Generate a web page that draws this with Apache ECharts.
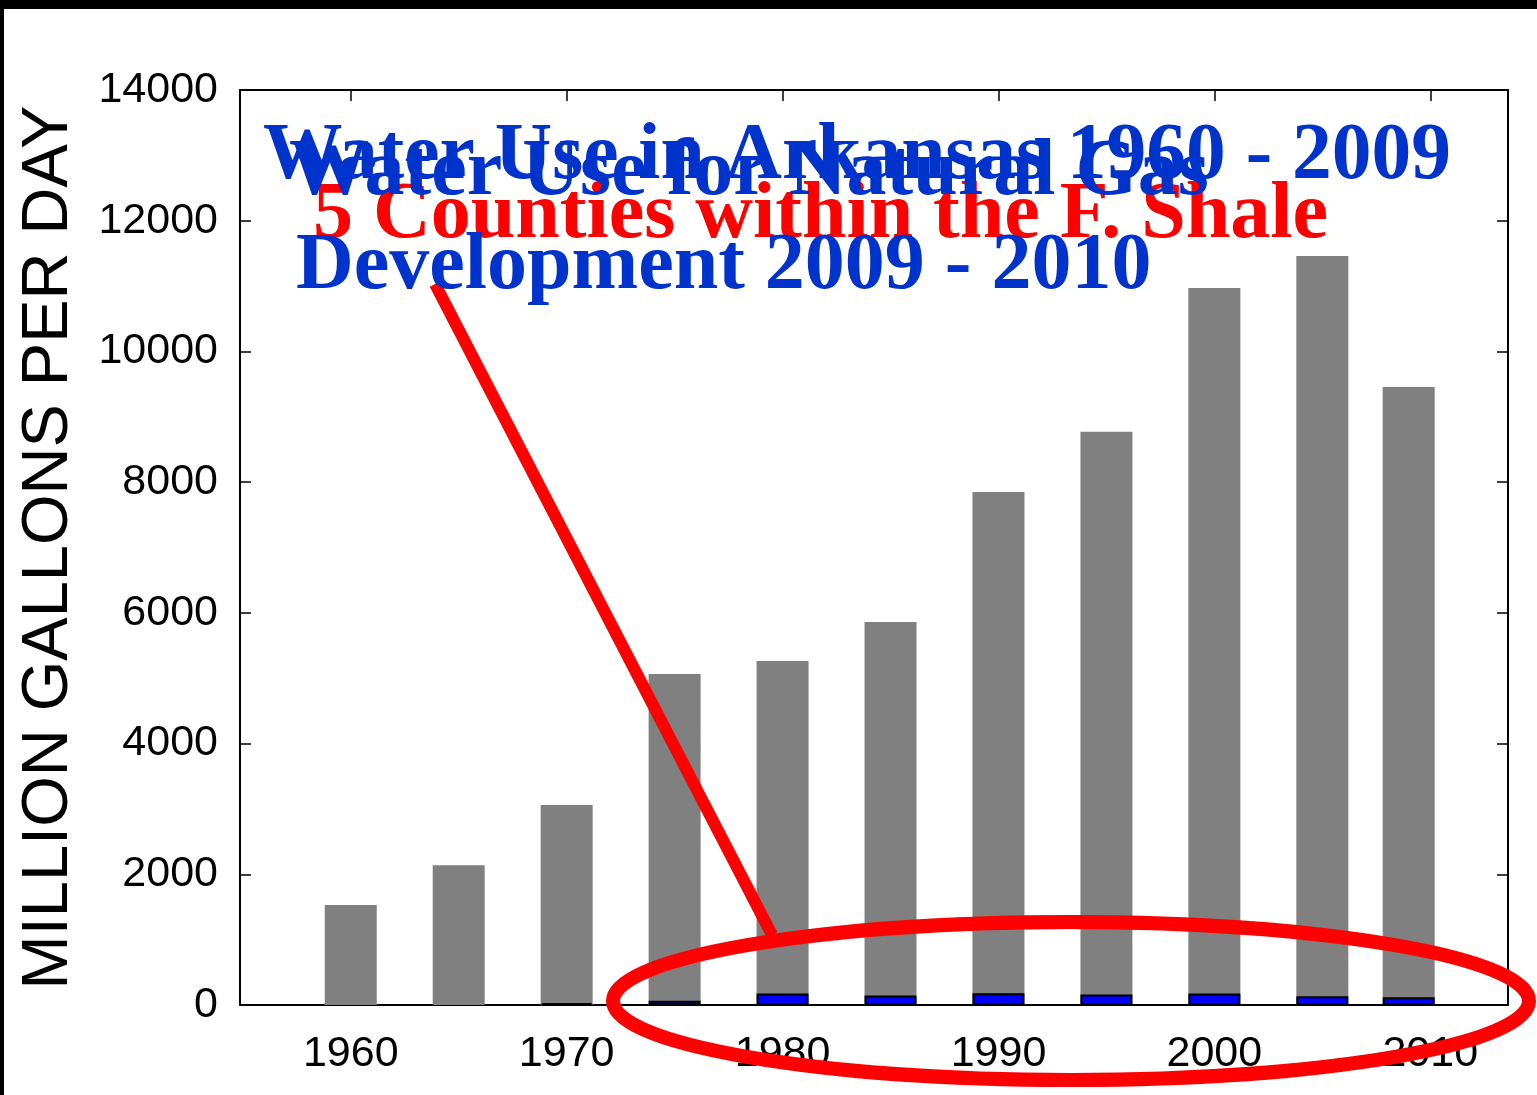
<!DOCTYPE html>
<html>
<head>
<meta charset="utf-8">
<style>
html,body{margin:0;padding:0;background:#fff;}
#chart{width:1537px;height:1095px;}
</style>
<script src="https://cdn.jsdelivr.net/npm/echarts@6/dist/echarts.min.js"></script>
</head>
<body>
<div id="chart"></div>
<script>
var years = [1960, 1965, 1970, 1975, 1980, 1985, 1990, 1995, 2000, 2005, 2009];
var arkansasUse = [1530, 2140, 3060, 5065, 5265, 5860, 7850, 8770, 10970, 11460, 9455];
var gasUse = [null, null, 30, 65, 175, 145, 180, 160, 175, 135, 120];
var xTicks = [1960, 1970, 1980, 1990, 2000, 2010];
var yTicks = [0, 2000, 4000, 6000, 8000, 10000, 12000, 14000];
var titleLines = [
  'Water Use in Arkansas 1960 - 2009',
  'Water Use for Natural Gas',
  '5 Counties within the F. Shale',
  'Development 2009 - 2010'
];
var yTitle = 'MILLION GALLONS PER DAY';

var chart = echarts.init(document.getElementById('chart'), null, {renderer: 'canvas'});

function pairs(xs, vs) { return xs.map(function (x, i) { return [x, vs[i]]; }); }
function plain(v) { return String(v); }

var sansFont = 'Liberation Sans';
var tickStyle = {show: true, inside: true, length: 11, lineStyle: {color: '#000', width: 1.5}};
var serif = 'bold 80px "Liberation Serif", "Times New Roman", serif';
var serif1 = 'bold 79.5px "Liberation Serif", "Times New Roman", serif';
var blue = '#0033cc';

var option = {
  backgroundColor: '#ffffff',
  animation: false,
  grid: {left: 240, right: 29, top: 90, bottom: 90, show: false},
  xAxis: [{
    type: 'value', min: 1954.87, max: 2013.6, position: 'bottom',
    axisLine: {show: true, onZero: false, lineStyle: {color: '#000', width: 2}},
    axisTick: Object.assign({customValues: xTicks}, tickStyle),
    axisLabel: {customValues: xTicks, formatter: plain, fontSize: 43, fontFamily: sansFont, color: '#000', margin: 28},
    splitLine: {show: false}
  }, {
    type: 'value', min: 1954.87, max: 2013.6, position: 'top',
    axisLine: {show: true, onZero: false, lineStyle: {color: '#000', width: 2}},
    axisTick: Object.assign({customValues: xTicks}, tickStyle),
    axisLabel: {show: false},
    splitLine: {show: false}
  }],
  yAxis: [{
    type: 'value', min: 0, max: 14000, interval: 2000, position: 'left',
    name: yTitle, nameLocation: 'middle', nameRotate: 90, nameGap: 158,
    nameTextStyle: {fontSize: 65, fontFamily: sansFont, color: '#000'},
    axisLine: {show: true, onZero: false, lineStyle: {color: '#000', width: 2}},
    axisTick: tickStyle,
    axisLabel: {formatter: plain, fontSize: 43, fontFamily: sansFont, color: '#000', margin: 22},
    splitLine: {show: false}
  }, {
    type: 'value', min: 0, max: 14000, interval: 2000, position: 'right',
    axisLine: {show: true, onZero: false, lineStyle: {color: '#000', width: 2}},
    axisTick: tickStyle,
    axisLabel: {show: false},
    splitLine: {show: false}
  }],
  series: [{
    type: 'bar', name: 'Arkansas', xAxisIndex: 0, yAxisIndex: 0,
    data: pairs(years, arkansasUse), barWidth: 52, barGap: '-100%',
    itemStyle: {color: '#808080'}, z: 2
  }, {
    type: 'bar', name: 'Natural Gas', xAxisIndex: 0, yAxisIndex: 0,
    data: pairs(years, gasUse), barWidth: 52, barGap: '-100%',
    itemStyle: {color: '#0000ff', borderColor: '#000', borderWidth: 2}, z: 3
  }],
  graphic: [
    {type: 'rect', z: 200, shape: {x: 0, y: 0, width: 1537, height: 9}, style: {fill: '#000'}},
    {type: 'rect', z: 200, shape: {x: 0, y: 0, width: 4, height: 1095}, style: {fill: '#000'}},
    {type: 'line', z: 100, shape: {x1: 435, y1: 284, x2: 772, y2: 935}, style: {stroke: '#ff0000', lineWidth: 12}},
    {type: 'ellipse', z: 100, shape: {cx: 1071, cy: 1001, rx: 458, ry: 79}, style: {fill: 'none', stroke: '#ff0000', lineWidth: 14}},
    {type: 'text', z: 110, x: 263, y: 157, style: {text: titleLines[0], font: serif1, fill: blue, verticalAlign: 'middle', align: 'left'}},
    {type: 'text', z: 110, x: 313, y: 216, style: {text: titleLines[2], font: serif, fill: '#ff0000', verticalAlign: 'middle', align: 'left'}},
    {type: 'text', z: 111, x: 289, y: 173, style: {text: titleLines[1], font: serif, fill: blue, verticalAlign: 'middle', align: 'left'}},
    {type: 'text', z: 111, x: 296, y: 267, style: {text: titleLines[3], font: serif, fill: blue, verticalAlign: 'middle', align: 'left'}}
  ]
};
chart.setOption(option);
</script>
</body>
</html>
